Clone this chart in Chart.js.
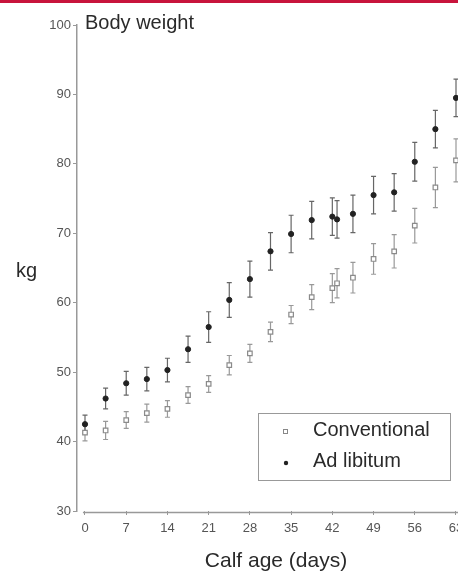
<!DOCTYPE html>
<html><head><meta charset="utf-8">
<script src="https://cdn.jsdelivr.net/npm/chart.js@4"></script>
<style>html,body{margin:0;padding:0;background:#fff;}#wrap{position:relative;width:458px;height:573px;}</style>
</head><body><div id="wrap"><canvas id="c" width="458" height="573"></canvas></div>
<script>
const days = [0, 3.5, 7, 10.5, 14, 17.5, 21, 24.5, 28, 31.5, 35, 38.5, 42, 42.8, 45.5, 49, 52.5, 56, 59.5, 63];
const conventional = [41.3, 41.6, 43.1, 44.1, 44.7, 46.7, 48.3, 51.0, 52.7, 55.8, 58.3, 60.8, 62.1, 62.8, 63.6, 66.3, 67.4, 71.1, 76.6, 80.5];
const conventionalErr = [1.2, 1.3, 1.2, 1.3, 1.2, 1.2, 1.2, 1.4, 1.3, 1.4, 1.3, 1.8, 2.1, 2.1, 2.2, 2.2, 2.4, 2.5, 2.9, 3.1];
const adLibitum = [42.5, 46.2, 48.4, 49.0, 50.3, 53.3, 56.5, 60.4, 63.4, 67.4, 69.9, 71.9, 72.4, 72.0, 72.8, 75.5, 75.9, 80.3, 85.0, 89.5];
const adLibitumErr = [1.3, 1.5, 1.7, 1.7, 1.7, 1.9, 2.2, 2.5, 2.6, 2.7, 2.7, 2.7, 2.7, 2.7, 2.7, 2.7, 2.7, 2.8, 2.7, 2.7];
const yTicks = [30, 40, 50, 60, 70, 80, 90, 100];
const xTicks = [0, 7, 14, 21, 28, 35, 42, 49, 56, 63];
const seriesNames = ['Conventional', 'Ad libitum'];
const chartTitle = 'Body weight';
const yTitle = 'kg';
const xTitle = 'Calf age (days)';

const FONT = '"Liberation Sans", Arial, Helvetica, sans-serif';
const errs = [conventionalErr, adLibitumErr];

const errorBars = {
  id: 'errorBars',
  beforeDatasetsDraw(chart) {
    const ctx = chart.ctx, xs = chart.scales.x, ys = chart.scales.y;
    ctx.save();
    chart.data.datasets.forEach((ds, di) => {
      ctx.strokeStyle = di === 0 ? '#999' : '#666';
      ctx.lineWidth = 1.2;
      ds.data.forEach((p, i) => {
        const e = errs[di][i];
        const px = xs.getPixelForValue(p.x);
        const y1 = ys.getPixelForValue(p.y + e), y2 = ys.getPixelForValue(p.y - e);
        ctx.beginPath();
        ctx.moveTo(px, y1); ctx.lineTo(px, y2);
        ctx.moveTo(px - 2.5, y1); ctx.lineTo(px + 2.5, y1);
        ctx.moveTo(px - 2.5, y2); ctx.lineTo(px + 2.5, y2);
        ctx.stroke();
      });
    });
    ctx.restore();
  }
};

const decor = {
  id: 'decor',
  afterDraw(chart) {
    const ctx = chart.ctx, xs = chart.scales.x, ys = chart.scales.y;
    ctx.save();
    ctx.fillStyle = '#c8143c';
    ctx.fillRect(0, 0, 458, 3);
    ctx.strokeStyle = '#999';
    ctx.lineWidth = 1.5;
    ctx.beginPath();
    ctx.moveTo(xs.getPixelForValue(-0.35), ys.bottom + 1.5);
    ctx.lineTo(458, ys.bottom + 1.5);
    ctx.stroke();
    ctx.fillStyle = '#2a2a2a';
    ctx.textBaseline = 'middle';
    ctx.textAlign = 'left';
    ctx.font = '20px ' + FONT;
    ctx.fillText(chartTitle, 85, 23);
    ctx.fillText(yTitle, 16, 271);
    ctx.textAlign = 'center';
    ctx.font = '21px ' + FONT;
    ctx.fillText(xTitle, 276, 561);
    ctx.strokeStyle = '#999';
    ctx.lineWidth = 1;
    ctx.strokeRect(258.5, 413.5, 192, 67);
    ctx.textAlign = 'left';
    ctx.font = '20px ' + FONT;
    ctx.fillStyle = '#2a2a2a';
    ctx.fillText(seriesNames[0], 313, 430);
    ctx.fillText(seriesNames[1], 313, 461);
    ctx.strokeStyle = '#888';
    ctx.lineWidth = 1;
    ctx.fillStyle = '#fff';
    ctx.fillRect(283, 429, 5, 5);
    ctx.strokeRect(283.5, 429.5, 4, 4);
    ctx.fillStyle = '#222';
    ctx.beginPath();
    ctx.arc(286, 463, 2.2, 0, Math.PI * 2);
    ctx.fill();
    ctx.restore();
  }
};

new Chart(document.getElementById('c'), {
  type: 'scatter',
  data: {
    datasets: [
      {
        label: seriesNames[0],
        data: days.map((d, i) => ({ x: d, y: conventional[i] })),
        pointStyle: 'rect',
        pointRadius: 3.2,
        backgroundColor: '#fff',
        borderColor: '#8a8a8a',
        borderWidth: 1.2
      },
      {
        label: seriesNames[1],
        data: days.map((d, i) => ({ x: d, y: adLibitum[i] })),
        pointStyle: 'circle',
        pointRadius: 2.6,
        backgroundColor: '#222',
        borderColor: '#222',
        borderWidth: 1
      }
    ]
  },
  options: {
    responsive: false,
    animation: false,
    devicePixelRatio: 1,
    layout: { autoPadding: false, padding: { top: 25, left: 0, right: 0, bottom: 0 } },
    plugins: { legend: { display: false }, tooltip: { enabled: false }, title: { display: false } },
    scales: {
      x: {
        type: 'linear', min: -1.358, max: 63.34,
        afterBuildTicks: s => { s.ticks = xTicks.map(v => ({ value: v })); },
        afterFit: s => { s.height = 62; s.paddingRight = 0; s.paddingLeft = 0; },
        grid: { display: true, drawOnChartArea: false, drawTicks: true, tickLength: 4, color: '#999', lineWidth: 1 },
        border: { display: false },
        ticks: { font: { size: 13, family: FONT }, color: '#555', padding: 6, maxRotation: 0, autoSkip: false }
      },
      y: {
        type: 'linear', min: 30, max: 100,
        afterBuildTicks: s => { s.ticks = yTicks.map(v => ({ value: v })); },
        afterFit: s => { s.width = 77; s.paddingTop = 0; s.paddingBottom = 0; },
        grid: { display: true, drawOnChartArea: false, drawTicks: true, tickLength: 4, color: '#999', lineWidth: 1 },
        border: { display: true, color: '#999', width: 1.5 },
        ticks: { font: { size: 13, family: FONT }, color: '#555', padding: 2, autoSkip: false }
      }
    }
  },
  plugins: [errorBars, decor]
});
</script></body></html>
